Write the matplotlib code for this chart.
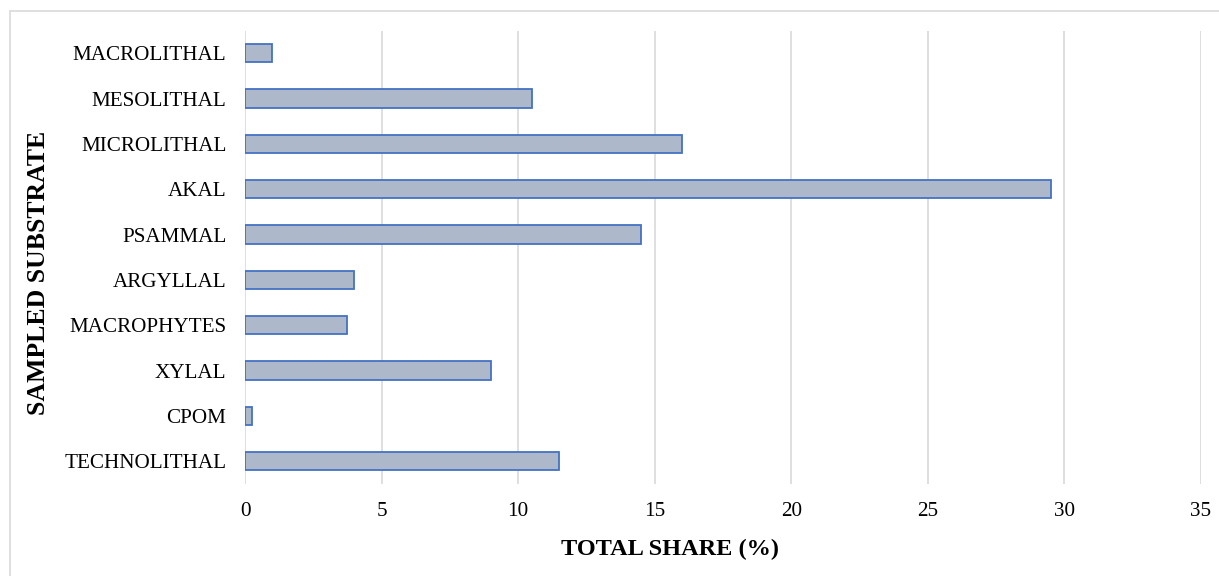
import matplotlib.pyplot as plt
from matplotlib.patches import Rectangle

plt.rcParams["font.family"] = ["Liberation Serif", "DejaVu Serif"]

# 数据
substrates = ["MACROLITHAL", "MESOLITHAL", "MICROLITHAL", "AKAL", "PSAMMAL",
              "ARGYLLAL", "MACROPHYTES", "XYLAL", "CPOM", "TECHNOLITHAL"]
share = [1.0, 10.5, 16.0, 29.5, 14.5, 4.0, 3.75, 9.0, 0.25, 11.5]
x_ticks = [0, 5, 10, 15, 20, 25, 30, 35]

fig = plt.figure(figsize=(12.19, 5.76), dpi=100)
ax = fig.add_axes([0.201, 0.160, 0.784, 0.787])

# 外框
fig.patches.append(Rectangle((10 / 1219, -0.1), 1.2, 1 - 11 / 576 + 0.1,
                             transform=fig.transFigure, fill=False,
                             edgecolor="#d9d9d9", linewidth=1.2))

pos = list(range(len(substrates)))
ax.barh(pos, share, height=0.4, color="#adb9ca", edgecolor="#4472c4",
        linewidth=1.3, zorder=3)

ax.set_ylim(len(substrates) - 0.5, -0.5)
ax.set_xlim(0, 35)
ax.set_xticks(x_ticks)
ax.set_yticks(pos)
ax.set_yticklabels(substrates)
ax.tick_params(axis="both", length=0, labelsize=15.2)
ax.tick_params(axis="y", pad=13.5)
ax.tick_params(axis="x", pad=13)

ax.grid(axis="x", color="#d9d9d9", linewidth=1.2, zorder=0)
for s in ax.spines.values():
    s.set_visible(False)

ax.set_xlabel("TOTAL SHARE (%)", fontsize=17.5, fontweight="bold")
ax.set_ylabel("SAMPLED SUBSTRATE", fontsize=18.5, fontweight="bold")
ax.xaxis.set_label_coords(0.4445, -0.145)
ax.yaxis.set_label_coords(-0.2165, 0.465)
ax.xaxis.label.set_va("center")
ax.yaxis.label.set_va("center")

fig.savefig("out.png", dpi=100)
